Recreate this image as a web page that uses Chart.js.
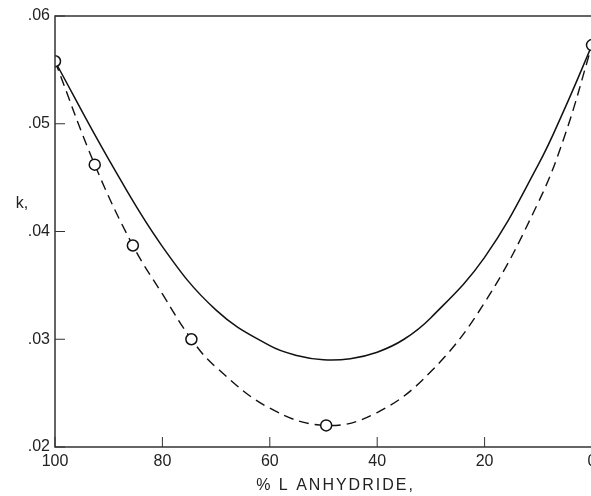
<!DOCTYPE html>
<html>
<head>
<meta charset="utf-8">
<script src="https://cdn.jsdelivr.net/npm/chart.js@4/dist/chart.umd.min.js"></script>
<style>
html, body { margin: 0; padding: 0; background: #fff; overflow: hidden; }
#wrap { width: 610px; height: 496px; }
</style>
</head>
<body>
<div id="wrap"><canvas id="myChart" width="610" height="496"></canvas></div>
<script>
// % L anhydride vs rate constant k
const xTicks = [100, 80, 60, 40, 20, 0]
const yTicks = [0.02, 0.03, 0.04, 0.05, 0.06]

// measured points (open circles)
const pointX = [100, 92.6, 85.5, 74.6, 49.5, 0]
const pointK = [0.0558, 0.0462, 0.0387, 0.0300, 0.0220, 0.0573]

// solid curve
const solidX = [100, 90, 80, 70, 60, 55, 50, 45, 40, 35, 30, 20, 10, 5, 0]
const solidK = [0.0558, 0.0467, 0.0386, 0.0327, 0.0294, 0.0285, 0.0281, 0.0282, 0.0288, 0.0300, 0.0320, 0.0376, 0.0462, 0.0515, 0.0573]

// dashed curve
const dashX = [100, 92.6, 85.5, 80, 74.6, 70, 60, 49.5, 40, 30, 20, 10, 5, 0]
const dashK = [0.0558, 0.0462, 0.0387, 0.0342, 0.0300, 0.0274, 0.0236, 0.0220, 0.0232, 0.0270, 0.0334, 0.0427, 0.0490, 0.0573]

function pairs(xs, ys) {
    const out = []
    for (let i = 0; i < xs.length; i++) {
        out.push({x: xs[i], y: ys[i]})
    }
    return out
}

const ink = '#222'
const font = {family: 'Liberation Sans', size: 16}

// frame, inward tick marks and the two loose labels
const frame = {
    id: 'frame',
    afterDraw(chart) {
        const ctx = chart.ctx
        const a = chart.chartArea
        const x = chart.scales.x
        const y = chart.scales.y
        ctx.save()
        ctx.strokeStyle = '#333'
        ctx.lineWidth = 1.5
        ctx.beginPath()
        ctx.moveTo(a.right, a.top)
        ctx.lineTo(a.left, a.top)
        ctx.lineTo(a.left, a.bottom)
        ctx.lineTo(a.right, a.bottom)
        ctx.lineTo(a.right, a.top)
        ctx.stroke()

        ctx.lineWidth = 1
        ctx.beginPath()
        yTicks.forEach(v => {
            const py = y.getPixelForValue(v)
            ctx.moveTo(a.left, py)
            ctx.lineTo(a.left + 10, py)
        })
        xTicks.forEach(v => {
            const px = x.getPixelForValue(v)
            ctx.moveTo(px, a.bottom)
            ctx.lineTo(px, a.bottom - 10)
        })
        ctx.stroke()

        ctx.fillStyle = ink
        ctx.font = '16px "Liberation Sans"'
        ctx.letterSpacing = '2px'
        ctx.textAlign = 'center'
        ctx.textBaseline = 'middle'
        ctx.fillText('% L ANHYDRIDE,', (a.left + a.right) / 2 + 12, 486)
        ctx.letterSpacing = '0px'
        ctx.fillText('k,', 22, 204)
        ctx.restore()
    }
}

const ctx = document.getElementById('myChart')
const myChart = new Chart(ctx, {
    type: 'scatter',
    data: {
        datasets: [{
            label: 'points',
            data: pairs(pointX, pointK),
            showLine: false,
            pointStyle: 'circle',
            pointRadius: 5.5,
            pointBorderWidth: 1.5,
            pointBorderColor: '#111',
            pointBackgroundColor: '#fff'
        }, {
            label: 'solid',
            data: pairs(solidX, solidK),
            showLine: true,
            borderColor: '#111',
            borderWidth: 1.5,
            pointRadius: 0,
            tension: 0.4
        }, {
            label: 'dashed',
            data: pairs(dashX, dashK),
            showLine: true,
            borderColor: '#111',
            borderWidth: 1.4,
            borderDash: [10, 6],
            pointRadius: 0,
            tension: 0.4
        }]
    },
    options: {
        responsive: false,
        animation: false,
        layout: {padding: {top: 16, right: 18, left: 0, bottom: 0}},
        plugins: {legend: {display: false}, tooltip: {enabled: false}},
        scales: {
            x: {
                type: 'linear',
                reverse: true,
                min: 0,
                max: 100,
                afterFit(scale) { scale.height = 49 },
                grid: {display: false, drawTicks: false},
                border: {display: false},
                ticks: {
                    stepSize: 20,
                    padding: 5,
                    color: ink,
                    font: font,
                    maxRotation: 0
                }
            },
            y: {
                min: 0.02,
                max: 0.06,
                afterFit(scale) { scale.width = 55 },
                grid: {display: false, drawTicks: false},
                border: {display: false},
                ticks: {
                    stepSize: 0.01,
                    padding: 5,
                    color: ink,
                    font: font,
                    callback: v => v.toFixed(2).replace('0.', '.')
                }
            }
        }
    },
    plugins: [frame]
})
</script>
</body>
</html>
